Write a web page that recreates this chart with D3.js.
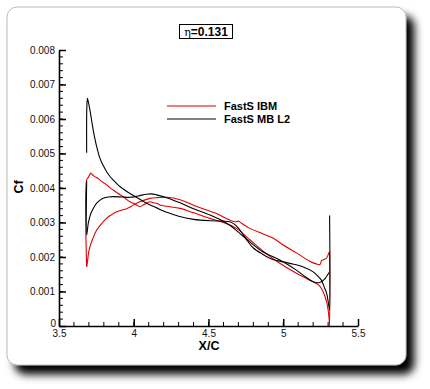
<!DOCTYPE html>
<html>
<head>
<meta charset="utf-8">
<script src="https://cdn.jsdelivr.net/npm/d3@7"></script>
<style>
  body { margin: 0; background: #fff; }
  svg text { font-family: "Liberation Sans", Arial, sans-serif; }
</style>
</head>
<body>
<div id="chart"></div>
<script>
// FastS IBM (red) - two surfaces
var ibmUpper = [[3.685,0.00172],[3.686,0.00425],[3.695,0.0043],[3.705,0.00438],[3.712,0.00443],[3.72,0.0044],[3.73,0.00436],
  [3.74,0.00433],[3.757,0.00429],[3.774,0.00423],[3.796,0.00416],[3.819,0.00409],[3.84,0.00401],[3.863,0.00394],[3.895,0.00384],
  [3.93,0.00375],[3.952,0.00367],[3.974,0.0036],[4.0,0.00355],[4.019,0.00351],[4.04,0.00346],[4.063,0.00351],[4.085,0.00356],
  [4.108,0.0036],[4.13,0.00357],[4.153,0.00356],[4.175,0.00351],[4.22,0.00347],[4.31,0.00341],[4.4,0.00328],[4.51,0.00312],
  [4.6,0.003],[4.687,0.00283],[4.776,0.0025],[4.88,0.00212],[4.977,0.00182],[5.088,0.00153],[5.2,0.00128],[5.24,0.00118],
  [5.266,0.001],[5.29,0.0007],[5.305,0.0003],[5.31,0],[5.31,0.00215]];
var ibmLower = [[3.685,0.00172],[3.69,0.00185],[3.697,0.0021],[3.707,0.0023],[3.725,0.00252],[3.752,0.00278],[3.785,0.00297],
  [3.818,0.00312],[3.85,0.00322],[3.885,0.00331],[3.92,0.00336],[3.952,0.0034],[3.985,0.00347],[4.019,0.00356],[4.06,0.00363],
  [4.108,0.0037],[4.16,0.00372],[4.22,0.00373],[4.31,0.00366],[4.4,0.0035],[4.487,0.00336],[4.554,0.00326],[4.6,0.00316],
  [4.643,0.00307],[4.68,0.00302],[4.7,0.00304],[4.72,0.00298],[4.776,0.00283],[4.865,0.00267],[4.93,0.00255],[5.0,0.00235],
  [5.088,0.00212],[5.177,0.00188],[5.22,0.0018],[5.244,0.00178],[5.25,0.00181],[5.256,0.0019],[5.27,0.00192],[5.289,0.00197],
  [5.306,0.00212],[5.31,0.00215]];

// FastS MB L2 (black)
var mbUpper = [[3.685,0.00502],[3.686,0.0063],[3.69,0.0066],[3.695,0.00652],[3.707,0.00626],[3.718,0.00596],[3.729,0.00568],
  [3.74,0.00543],[3.752,0.0052],[3.774,0.00486],[3.796,0.00465],[3.819,0.00447],[3.84,0.00434],[3.863,0.00423],[3.9,0.00407],
  [3.93,0.00397],[3.974,0.00384],[4.03,0.0037],[4.086,0.00356],[4.13,0.00347],[4.175,0.00338],[4.22,0.0033],[4.3,0.00318],
  [4.4,0.00309],[4.51,0.00305],[4.6,0.00304],[4.64,0.00302],[4.67,0.00296],[4.7,0.00284],[4.73,0.00266],[4.76,0.00247],
  [4.8,0.00226],[4.863,0.00208],[4.93,0.00193],[5.0,0.00186],[5.07,0.00179],[5.13,0.00172],[5.2,0.00157],[5.23,0.00145],
  [5.255,0.00133],[5.275,0.00112],[5.29,0.00095],[5.3,0.00072],[5.306,0.00056],[5.31,0.00046],[5.31,0.0032]];
var mbLower = [[3.685,0.0042],[3.685,0.00264],[3.69,0.00278],[3.696,0.00298],[3.707,0.00318],[3.718,0.00331],[3.735,0.00345],
  [3.752,0.00356],[3.775,0.00365],[3.796,0.0037],[3.83,0.00374],[3.863,0.00375],[3.92,0.00374],[3.974,0.00373],[4.03,0.00377],
  [4.086,0.00382],[4.12,0.00383],[4.153,0.0038],[4.22,0.00372],[4.31,0.00357],[4.4,0.0034],[4.51,0.00322],[4.58,0.00308],
  [4.643,0.00292],[4.7,0.00272],[4.776,0.00244],[4.86,0.00216],[4.977,0.00191],[5.088,0.00162],[5.15,0.00142],[5.2,0.00128],
  [5.244,0.00126],[5.275,0.00135],[5.306,0.00155]];

var xMajor = [3.5, 4, 4.5, 5, 5.5];
var yMajor = [0, 0.001, 0.002, 0.003, 0.004, 0.005, 0.006, 0.007, 0.008];
var legendNames = ["FastS IBM", "FastS MB L2"];
var legendColors = ["#e00000", "#000000"];

var width = 430, height = 389;
var svg = d3.select("#chart").append("svg")
  .attr("width", width)
  .attr("height", height);

var defs = svg.append("defs");
var f = defs.append("filter").attr("id", "shadow")
  .attr("x", "-10%").attr("y", "-10%").attr("width", "130%").attr("height", "130%");
f.append("feDropShadow").attr("dx", 8).attr("dy", 9).attr("stdDeviation", 4)
  .attr("flood-color", "#000").attr("flood-opacity", 1);

// card
svg.append("rect")
  .attr("x", 7).attr("y", 7).attr("width", 399).attr("height", 358)
  .attr("rx", 10).attr("ry", 10)
  .attr("fill", "#fff").attr("stroke", "#aaa").attr("stroke-width", 0.8)
  .attr("filter", "url(#shadow)");

var x = d3.scaleLinear().domain([3.5, 5.5]).range([59, 358]);
var y = d3.scaleLinear().domain([0, 0.008]).range([326, 50]);

// minor ticks
var g = svg.append("g");
g.selectAll(".xminor").data(d3.range(36, 55).map(function(d){ return d / 10; }))
  .enter().append("line")
  .attr("x1", function(d){ return x(d); }).attr("x2", function(d){ return x(d); })
  .attr("y1", y(0)).attr("y2", y(0) - 4)
  .attr("stroke", "#000").attr("stroke-width", 1);
g.selectAll(".yminor").data(d3.range(1, 40).map(function(d){ return d * 0.0002; }))
  .enter().append("line")
  .attr("x1", x(3.5)).attr("x2", x(3.5) + 4)
  .attr("y1", function(d){ return y(d); }).attr("y2", function(d){ return y(d); })
  .attr("stroke", "#000").attr("stroke-width", 1);

var xAxis = d3.axisBottom(x).tickValues(xMajor).tickSizeInner(-7).tickSizeOuter(0).tickPadding(4)
  .tickFormat(function(d){ return String(d); });
var yAxis = d3.axisLeft(y).tickValues(yMajor).tickSizeInner(-7).tickSizeOuter(0).tickPadding(4)
  .tickFormat(function(d){ return d === 0 ? "0" : d.toFixed(3); });

var gx = svg.append("g").attr("transform", "translate(0," + y(0) + ")").call(xAxis);
var gy = svg.append("g").attr("transform", "translate(" + x(3.5) + ",0)").call(yAxis);
[gx, gy].forEach(function(a) {
  a.select(".domain").attr("stroke-width", 1.6);
  a.selectAll(".tick line").attr("stroke-width", 1.5);
  a.selectAll("text").attr("font-size", 10).attr("fill", "#111")
    .style("font-family", "'Liberation Sans', Arial, sans-serif");
});
gy.selectAll(".tick").filter(function(d){ return d === 0; }).select("text")
  .attr("x", -3).attr("dy", "0.05em");

// curves
var line = d3.line()
  .x(function(d){ return x(d[0]); })
  .y(function(d){ return y(d[1]); })
  .curve(d3.curveCatmullRom.alpha(0.5));

[ibmUpper, ibmLower].forEach(function(s) {
  svg.append("path").datum(s).attr("d", line)
    .attr("fill", "none").attr("stroke", legendColors[0]).attr("stroke-width", 1.1);
});
[mbUpper, mbLower].forEach(function(s) {
  svg.append("path").datum(s).attr("d", line)
    .attr("fill", "none").attr("stroke", legendColors[1]).attr("stroke-width", 1.1);
});

// legend
legendNames.forEach(function(name, i) {
  var ly = 106 + i * 13;
  svg.append("line").attr("x1", 167).attr("x2", 216).attr("y1", ly).attr("y2", ly)
    .attr("stroke", legendColors[i]).attr("stroke-width", 1.2);
  svg.append("text").attr("x", 224).attr("y", ly + 4)
    .attr("font-size", 11).attr("font-weight", "bold").text(name);
});

// axis titles
svg.append("text").attr("x", 209).attr("y", 349.5).attr("text-anchor", "middle")
  .attr("font-size", 12.5).attr("font-weight", "bold").text("X/C");
svg.append("text").attr("transform", "translate(23,187) rotate(-90)").attr("text-anchor", "middle")
  .attr("font-size", 12.5).attr("font-weight", "bold").text("Cf");

// title box
svg.append("rect").attr("x", 179.5).attr("y", 24.5).attr("width", 53).attr("height", 14)
  .attr("fill", "none").attr("stroke", "#000").attr("stroke-width", 1);
var t = svg.append("text").attr("x", 206).attr("y", 36).attr("text-anchor", "middle").attr("font-size", 12);
t.append("tspan").attr("font-family", "'DejaVu Serif', serif").attr("font-size", 11).text("η");
t.append("tspan").attr("font-weight", "bold").text("=0.131");
</script>
</body>
</html>
